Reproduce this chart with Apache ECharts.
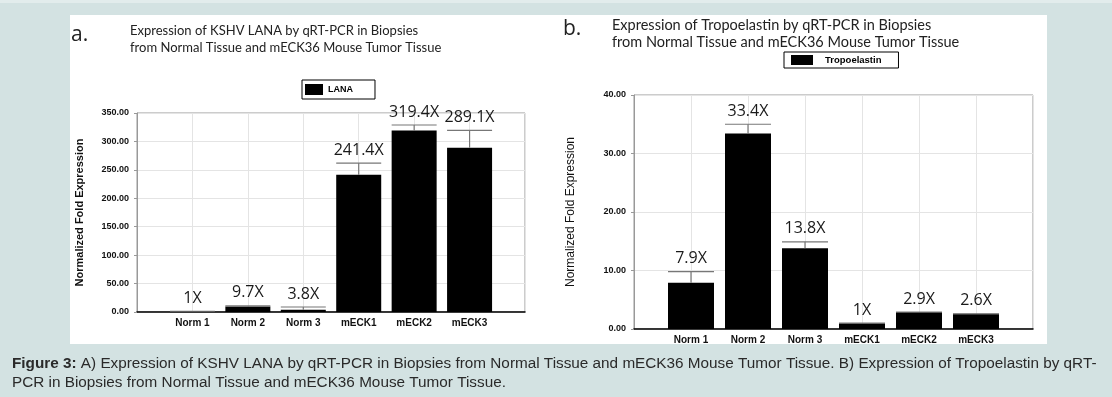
<!DOCTYPE html>
<html>
<head>
<meta charset="utf-8">
<script src="https://cdn.jsdelivr.net/npm/echarts@6/dist/echarts.min.js"></script>
<style>
  html, body { margin: 0; padding: 0; background: #d3e2e2; }
  #main { width: 1112px; height: 397px; }
</style>
</head>
<body>
<div id="main"></div>
<script>
  // data
  var categories   = ['Norm 1', 'Norm 2', 'Norm 3', 'mECK1', 'mECK2', 'mECK3'];
  var lanaValues   = [1, 9.7, 3.8, 241.4, 319.4, 289.1];
  var lanaErrors   = [0.3, 1, 5, 20.5, 9.5, 30.5];
  var tropoValues  = [7.9, 33.4, 13.8, 1, 2.9, 2.6];
  var tropoErrors  = [1.9, 1.6, 1.1, 0, 0, 0];
  var lanaAxis     = { min: 0, max: 350, step: 50 };
  var tropoAxis    = { min: 0, max: 40, step: 10 };

  var axisData = [''].concat(categories, ['']);
  var myChart = echarts.init(document.getElementById('main'));

  function errorSeries(name, idx, values, errors, bw) {
    return {
      type: 'custom', name: name, xAxisIndex: idx, yAxisIndex: idx, z: 5,
      data: categories.map(function (c, i) { return [c, values[i], errors[i]]; }),
      renderItem: function (params, api) {
        var x = api.value(0), v = api.value(1), e = api.value(2);
        var base = api.coord([x, v]);
        var top = api.coord([x, v + e]);
        var hw = bw / 2;
        return {
          type: 'group',
          children: [
            { type: 'line', shape: { x1: top[0], y1: base[1], x2: top[0], y2: top[1] },
              style: { stroke: '#777', lineWidth: 1.2 } },
            { type: 'line', shape: { x1: top[0] - hw, y1: top[1], x2: top[0] + hw, y2: top[1] },
              style: { stroke: '#777', lineWidth: 1.2 } },
            { type: 'text', style: { text: v + 'X', x: top[0], y: top[1] - 5, align: 'center',
              verticalAlign: 'bottom', fontSize: 16, fontFamily: 'Open Sans', fill: '#1a1a1a' } }
          ]
        };
      }
    };
  }

  function xAxisOf(idx) {
    return {
      type: 'category', gridIndex: idx, data: axisData, boundaryGap: false,
      axisLine: { lineStyle: { color: '#000', width: 1.5 } },
      axisTick: { show: false },
      axisLabel: { interval: 0, fontWeight: 'bold', fontSize: 10, color: '#111',
                   fontFamily: 'Liberation Sans', margin: 6 },
      splitLine: { show: true, lineStyle: { color: '#e4e4e4' } }
    };
  }

  function yAxisOf(idx, ax, nameStyle, gap) {
    return {
      type: 'value', gridIndex: idx, min: ax.min, max: ax.max, interval: ax.step,
      name: 'Normalized Fold Expression', nameLocation: 'middle', nameGap: gap,
      nameTextStyle: nameStyle,
      axisLine: { show: true, lineStyle: { color: '#999' } },
      axisTick: { show: true, length: 3, lineStyle: { color: '#999' } },
      axisLabel: { formatter: function (v) { return v.toFixed(2); }, fontWeight: 'bold',
                   fontSize: 9, color: '#111', fontFamily: 'Liberation Sans', margin: 8 },
      splitLine: { lineStyle: { color: '#e4e4e4' } }
    };
  }

  var titleFont = 'Lato';
  var option = {
    backgroundColor: '#d3e2e2',
    animation: false,
    graphic: [
      { type: 'rect', shape: { x: 0, y: 0, width: 1112, height: 3 }, style: { fill: '#e2ecec' }, z: -10 },
      { type: 'rect', shape: { x: 70, y: 15, width: 977, height: 329 }, style: { fill: '#fff' }, z: -10 }
    ],
    title: [
      { text: 'a.', left: 71, top: 25, padding: 0, textStyle: { fontSize: 21, fontWeight: 'normal', color: '#222', fontFamily: 'Open Sans' } },
      { text: 'Expression of KSHV LANA by qRT-PCR in Biopsies\nfrom Normal Tissue and mECK36 Mouse Tumor Tissue',
        left: 130, top: 22, padding: 0, textStyle: { fontSize: 13, lineHeight: 17, fontWeight: 'normal', color: '#222', fontFamily: titleFont } },
      { text: 'b.', left: 563, top: 19, padding: 0, textStyle: { fontSize: 21, fontWeight: 'normal', color: '#222', fontFamily: 'Open Sans' } },
      { text: 'Expression of Tropoelastin by qRT-PCR in Biopsies\nfrom Normal Tissue and mECK36 Mouse Tumor Tissue',
        left: 612, top: 17, padding: 0, textStyle: { fontSize: 14.5, lineHeight: 17, fontWeight: 'normal', color: '#222', fontFamily: titleFont } },
      { text: '{b|Figure 3:} A) Expression of KSHV LANA by qRT-PCR in Biopsies from Normal Tissue and mECK36 Mouse Tumor Tissue. B) Expression of Tropoelastin by qRT-\nPCR in Biopsies from Normal Tissue and mECK36 Mouse Tumor Tissue.',
        left: 12, top: 354, padding: 0,
        textStyle: { fontSize: 15.3, lineHeight: 19, fontWeight: 'normal', color: '#2a2a2a', fontFamily: 'Liberation Sans',
          rich: { b: { fontSize: 15.3, fontWeight: 'bold', color: '#2a2a2a', fontFamily: 'Liberation Sans' } } } }
    ],
    legend: [
      { data: ['LANA'], left: 302, top: 80, padding: [4, 22, 4, 3], icon: 'rect', itemWidth: 18, itemHeight: 11,
        backgroundColor: '#fff', borderColor: '#000', borderWidth: 1, selectedMode: false,
        textStyle: { fontWeight: 'bold', fontSize: 9, color: '#000', fontFamily: 'Liberation Sans' } },
      { data: ['Tropoelastin'], left: 784, top: 52, padding: [3, 17, 3, 7], icon: 'rect', itemWidth: 22, itemHeight: 10,
        backgroundColor: '#fff', borderColor: '#000', borderWidth: 1, selectedMode: false,
        textStyle: { fontWeight: 'bold', fontSize: 9.5, color: '#000', fontFamily: 'Liberation Sans', padding: [0, 0, 0, 7] } }
    ],
    grid: [
      { left: 137, top: 113, width: 388, height: 199, show: true, borderColor: '#999', borderWidth: 1, backgroundColor: '#fff' },
      { left: 634, top: 95, width: 399, height: 234, show: true, borderColor: '#999', borderWidth: 1, backgroundColor: '#fff' }
    ],
    xAxis: [xAxisOf(0), xAxisOf(1)],
    yAxis: [
      yAxisOf(0, lanaAxis, { fontWeight: 'bold', fontSize: 11, color: '#111', fontFamily: 'Liberation Sans' }, 52),
      yAxisOf(1, tropoAxis, { fontWeight: 'normal', fontSize: 12, color: '#111', fontFamily: 'Liberation Sans' }, 57)
    ],
    series: [
      { name: 'LANA', type: 'bar', xAxisIndex: 0, yAxisIndex: 0, barWidth: 45, itemStyle: { color: '#000' },
        data: categories.map(function (c, i) { return [c, lanaValues[i]]; }) },
      errorSeries('LANA err', 0, lanaValues, lanaErrors, 45),
      { name: 'Tropoelastin', type: 'bar', xAxisIndex: 1, yAxisIndex: 1, barWidth: 46, itemStyle: { color: '#000' },
        data: categories.map(function (c, i) { return [c, tropoValues[i]]; }) },
      errorSeries('Tropoelastin err', 1, tropoValues, tropoErrors, 46)
    ]
  };
  myChart.setOption(option);
</script>
</body>
</html>
